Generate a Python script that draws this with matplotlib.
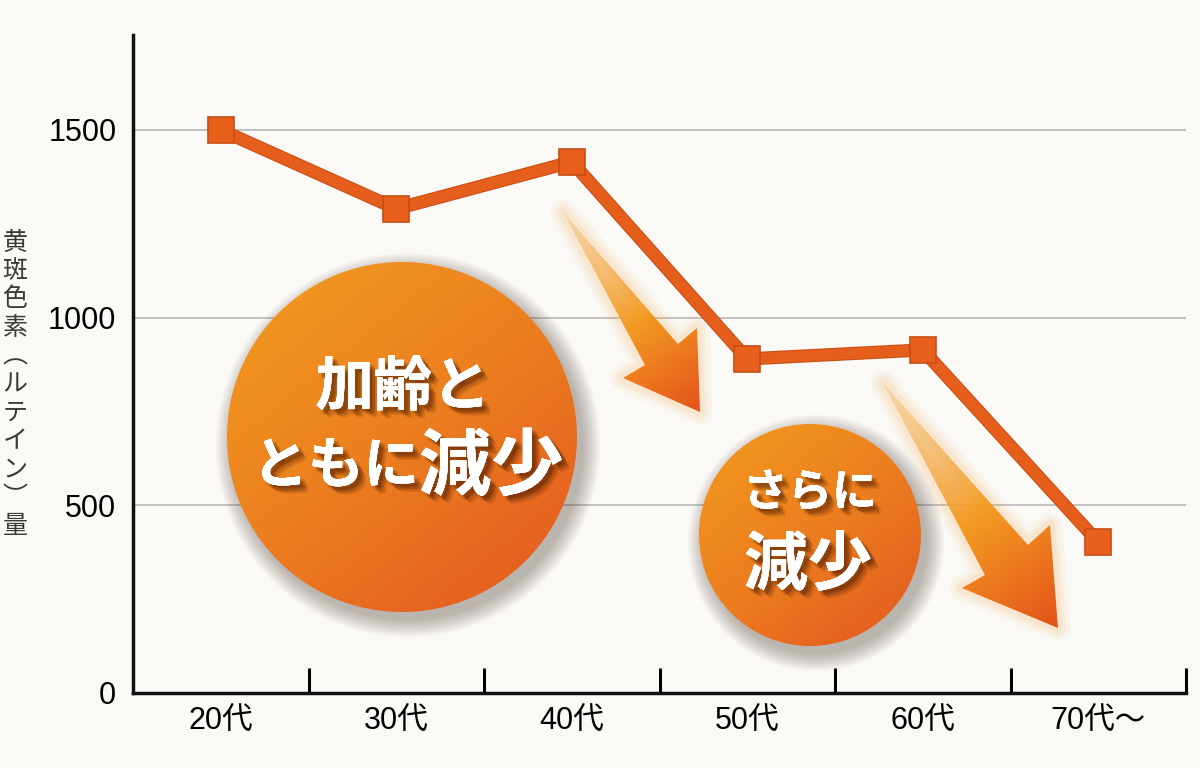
import numpy as np
import matplotlib
matplotlib.use("Agg")
import matplotlib.pyplot as plt
import matplotlib.patheffects as pe
from matplotlib.patches import Circle, Polygon
from matplotlib.colors import LinearSegmentedColormap, to_rgba

# data
ages = ['20代', '30代', '40代', '50代', '60代', '70代～']
lutein = [1500, 1290, 1415, 890, 914, 402]
yticks = [0, 500, 1000, 1500]
ylabel_chars = list('黄斑色素︵ルテイン︶量')

# decorations (figure pixel coordinates, y downward)
bubbles = [
    # cx, cy, r, lines -> (text, x, y, size, ha)
    (402, 437, 175, [('加齢と', 403, 388, 42, 'center'),
                     ('ともに', 419, 467, 40, 'right'),
                     ('減少', 419, 468, 52, 'left')]),
    (810, 535, 111, [('さらに', 810, 493, 32, 'center'),
                     ('減少', 808, 566, 46, 'center')]),
]
arrows = [
    [(563, 212), (678, 344), (697, 328), (700, 412), (623, 378), (645, 365)],
    [(883, 383), (1028, 545), (1050, 525), (1058, 628), (962, 588), (985, 575)],
]

bg = '#faf9f6'
plt.rcParams['font.family'] = ['Liberation Sans', 'Noto Sans CJK JP']

fig = plt.figure(figsize=(12, 7.68), dpi=100, facecolor=bg)
ax = fig.add_axes([133 / 1200, 75 / 768, (1186 - 133) / 1200, (693 - 35) / 768])
ax.set_facecolor(bg)

x = np.arange(len(ages))
ax.plot(x, lutein, color='#e65e1c', lw=8, solid_joinstyle='miter', zorder=5,
        path_effects=[pe.Stroke(linewidth=9.5, foreground='#c84d14'), pe.Normal()])
ax.plot(x, lutein, ls='none', marker='s', ms=19, mfc='#e8601c', mec='#c84d14',
        mew=1.2, zorder=6)

ax.set_yticks(yticks)
ax.set_yticklabels([str(v) for v in yticks], fontsize=22)
ax.tick_params(axis='y', length=0, pad=12)
ax.set_xticks(x + 0.5)
ax.set_xticklabels([])
ax.tick_params(axis='x', which='major', direction='in', length=18, width=2.2)
ax.set_xticks(x, minor=True)
ax.set_xticklabels(ages, minor=True, fontsize=22)
ax.tick_params(axis='x', which='minor', length=0, pad=10)
ax.set_xlim(-0.5, len(ages) - 0.5)
ax.set_ylim(0, 1753)
for s in ['top', 'right']:
    ax.spines[s].set_visible(False)
for s in ['left', 'bottom']:
    ax.spines[s].set_linewidth(2.5)
    ax.spines[s].set_color('#111111')
ax.grid(axis='y', color='#b8b8b8', lw=1.2)
ax.set_axisbelow(True)

# overlay in pixel coordinates
ov = fig.add_axes([0, 0, 1, 1])
ov.axis('off')
ov.patch.set_alpha(0)

circ_cmap = LinearSegmentedColormap.from_list('c', ['#f39c1f', '#ec7e1f', '#e2561f'])
txt_fx = [pe.withSimplePatchShadow(offset=(dx, -dy), shadow_rgbFace='#4a1a00', alpha=0.13)
          for dx, dy in [(2, 2), (3, 3), (4, 4), (5, 5), (6, 6), (4, 2), (2, 4)]] + [pe.Normal()]

for cx, cy, r, lines in bubbles:
    for i in range(14):
        ov.add_patch(Circle((cx + 6, cy + 8), r + i * 1.3, color='#5a4a40', alpha=0.03, lw=0))
    g = np.linspace(0, 1, 256)
    gx, gy = np.meshgrid(g, g)
    t = np.clip((gx * 0.8 + gy * 1.0) / 1.8, 0, 1)
    im = ov.imshow(t, cmap=circ_cmap, extent=(cx - r, cx + r, cy + r, cy - r),
                   origin='upper', zorder=3, interpolation='bilinear')
    im.set_clip_path(Circle((cx, cy), r, transform=ov.transData))
    for txt, tx, ty, size, ha in lines:
        ov.text(tx, ty, txt, ha=ha, va='center', fontsize=size, color='white',
                fontweight='bold', family=['Noto Sans CJK JP'], zorder=5, path_effects=txt_fx)

c_tail = np.array(to_rgba('#f7c27e', 0.45))
c_mid = np.array(to_rgba('#f39a22', 1.0))
c_tip = np.array(to_rgba('#e4521a', 1.0))
for pts in arrows:
    pts = np.array(pts, float)
    for w, a in [(18, 0.06), (12, 0.08), (7, 0.1)]:
        ov.add_patch(Polygon(pts, closed=True, fill=False, ec='#f7a545', lw=w, alpha=a,
                             joinstyle='round', zorder=2))
    x0, y0 = pts.min(axis=0)
    x1, y1 = pts.max(axis=0)
    gx, gy = np.meshgrid(np.linspace(x0, x1, 200), np.linspace(y0, y1, 200))
    d = pts[3] - pts[0]
    t = ((gx - pts[0][0]) * d[0] + (gy - pts[0][1]) * d[1]) / (d @ d)
    t = np.clip(t, 0, 1)[..., None]
    img = np.where(t < 0.55, c_tail + (c_mid - c_tail) * (t / 0.55),
                   c_mid + (c_tip - c_mid) * ((t - 0.55) / 0.45))
    im = ov.imshow(img, extent=(x0, x1, y1, y0), origin='upper', zorder=3,
                   interpolation='bilinear')
    im.set_clip_path(Polygon(pts, closed=True, transform=ov.transData))

# vertical y label (vertical-form brackets)
for i, ch in enumerate(ylabel_chars):
    ov.text(15, 242.5 + i * 28.35, ch, ha='center', va='center', fontsize=18,
            color='#3a3a3a', family=['Noto Sans CJK JP'])

ov.set_xlim(0, 1200)
ov.set_ylim(768, 0)

fig.savefig('out.png', dpi=100, facecolor=bg)
